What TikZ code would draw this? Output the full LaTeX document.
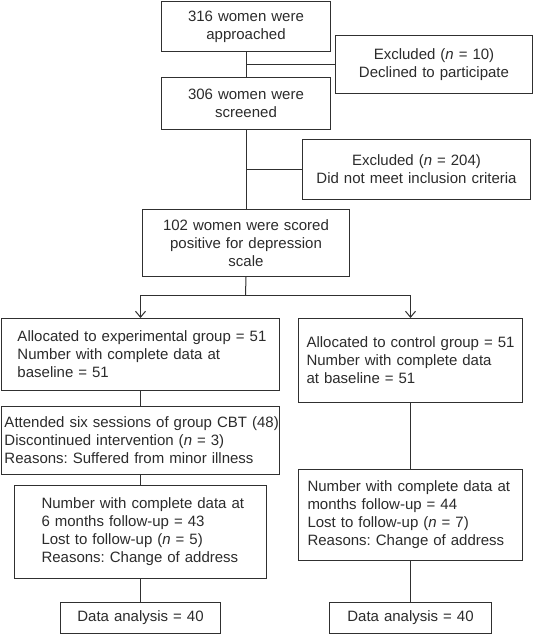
\documentclass[tikz,border=0pt]{standalone}
\usepackage{fontspec}
\setmainfont{Liberation Sans}
\usetikzlibrary{arrows.meta}
\definecolor{txt}{HTML}{2B2B2B}
\definecolor{lnc}{HTML}{303030}
\frenchspacing
\begin{document}
\begin{tikzpicture}[x=1pt,y=-1pt,
  every node/.style={font=\fontsize{15}{18}\selectfont, text=txt},
  box/.style={draw=lnc, line width=1pt, inner sep=0pt, anchor=north west},
  cbox/.style={box, align=center},
  lbox/.style={box, align=left, execute at begin node={\frenchspacing\leftskip=#1\relax}},
  ln/.style={draw=lnc, line width=1pt},
  arr/.style={ln, -{Straight Barb[length=6pt,width=10pt,line width=1pt]}}]
\useasboundingbox (0,0) rectangle (540,634);

\node[cbox, text width=169pt, minimum height=50pt] (a) at (161,1) {316 women were\\approached};
\node[cbox, text width=197pt, minimum height=58pt] (e1) at (335,35) {Excluded (\textit{n} = 10)\\Declined to participate};
\node[cbox, text width=169pt, minimum height=52pt] (b) at (161,77) {306 women were\\screened};
\node[cbox, text width=228pt, minimum height=60pt] (e2) at (302,139) {Excluded (\textit{n} = 204)\\Did not meet inclusion criteria};
\node[cbox, text width=207pt, minimum height=67pt] (c) at (142,209) {102 women were scored\\positive for depression\\scale};

\node[lbox=16pt, text width=278pt, minimum height=72pt] (l1) at (1,318) {Allocated to experimental group = 51\\Number with complete data at\\baseline = 51};
\node[lbox=8pt, text width=224pt, minimum height=84pt] (r1) at (298,318) {Allocated to control group = 51\\Number with complete data\\at baseline = 51};
\node[lbox=3pt, text width=278pt, minimum height=68pt] (l2) at (1,406) {Attended six sessions of group CBT (48)\\Discontinued intervention (\textit{n} = 3)\\Reasons: Suffered from minor illness};
\node[lbox=27pt, text width=252pt, minimum height=93pt] (l3) at (14,485) {Number with complete data at\\6 months follow-up = 43\\Lost to follow-up (\textit{n} = 5)\\Reasons: Change of address};
\node[lbox=9pt, text width=224pt, minimum height=91pt] (r2) at (298,469) {Number with complete data at\\months follow-up = 44\\Lost to follow-up (\textit{n} = 7)\\Reasons: Change of address};
\node[cbox, text width=160pt, minimum height=31pt] (ld) at (60,602) {Data analysis = 40};
\node[cbox, text width=162pt, minimum height=31pt] (rd) at (329,602) {Data analysis = 40};

\coordinate (sp) at (245.5,295);

\draw[ln] (a) -- (b);
\draw[ln] (e1.west -| a.south) -- (e1.west);
\draw[ln] (b) -- (c);
\draw[ln] (e2.west -| b.south) -- (e2.west);
\draw[ln] (c.south) -- (sp);
\draw[arr] (sp) -| (l1.north);
\draw[arr] (sp) -| (r1.north);
\draw[ln] (l1) -- (l2);
\draw[ln] (l2) -- (l3);
\draw[ln] (l3) -- (ld);
\draw[ln] (r1) -- (r2);
\draw[ln] (r2) -- (rd);
\end{tikzpicture}
\end{document}
